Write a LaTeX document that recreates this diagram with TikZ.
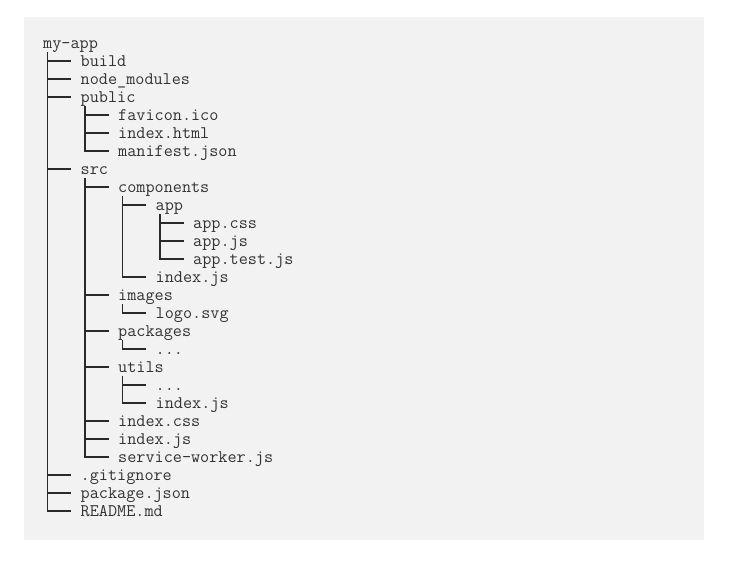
\documentclass[tikz,border=0pt]{standalone}
\usepackage{fontspec}
\definecolor{bgc}{HTML}{F2F2F2}
\definecolor{txtc}{HTML}{333333}
\definecolor{linec}{HTML}{2A2A2A}
\begin{document}
\begin{tikzpicture}[x=1pt,y=-1pt,
  item/.style={anchor=base west,inner sep=0pt,text=txtc,font=\ttfamily\fontsize{17.7}{18}\selectfont},
  tree/.style={draw=linec,line width=1.2pt}]
\useasboundingbox (0,0) rectangle (743,562);
\fill[bgc] (24,17) rectangle (704,540);
% rows: baseline y = 48 + 18 i ; levels x = 43 + 37.5 l
\node[item] (n0)  at (43,48)    {my-app};
\node[item] (n1)  at (80.5,66)  {build};
\node[item] (n2)  at (80.5,84)  {node\_modules};
\node[item] (n3)  at (80.5,102) {public};
\node[item] (n4)  at (118,120)  {favicon.ico};
\node[item] (n5)  at (118,138)  {index.html};
\node[item] (n6)  at (118,156)  {manifest.json};
\node[item] (n7)  at (80.5,174) {src};
\node[item] (n8)  at (118,192)  {components};
\node[item] (n9)  at (155.5,210) {app};
\node[item] (n10) at (193,228)  {app.css};
\node[item] (n11) at (193,246)  {app.js};
\node[item] (n12) at (193,264)  {app.test.js};
\node[item] (n13) at (155.5,282) {index.js};
\node[item] (n14) at (118,300)  {images};
\node[item] (n15) at (155.5,318) {logo.svg};
\node[item] (n16) at (118,336)  {packages};
\node[item] (n17) at (155.5,354) {...};
\node[item] (n18) at (118,372)  {utils};
\node[item] (n19) at (155.5,390) {...};
\node[item] (n20) at (155.5,408) {index.js};
\node[item] (n21) at (118,426)  {index.css};
\node[item] (n22) at (118,444)  {index.js};
\node[item] (n23) at (118,462)  {service-worker.js};
\node[item] (n24) at (80.5,480) {.gitignore};
\node[item] (n25) at (80.5,498) {package.json};
\node[item] (n26) at (80.5,516) {README.md};
\foreach \p/\c in {n0/n1,n0/n2,n0/n3,n0/n7,n0/n24,n0/n25,n0/n26,
                   n3/n4,n3/n5,n3/n6,
                   n7/n8,n7/n14,n7/n16,n7/n18,n7/n21,n7/n22,n7/n23,
                   n8/n9,n8/n13,
                   n9/n10,n9/n11,n9/n12,
                   n14/n15,n16/n17,n18/n19,n18/n20}
  \draw[tree] ([xshift=4.5pt,yshift=-4pt]\p.base west) |- ([xshift=-9.5pt,yshift=5pt]\c.base west);
\end{tikzpicture}
\end{document}
